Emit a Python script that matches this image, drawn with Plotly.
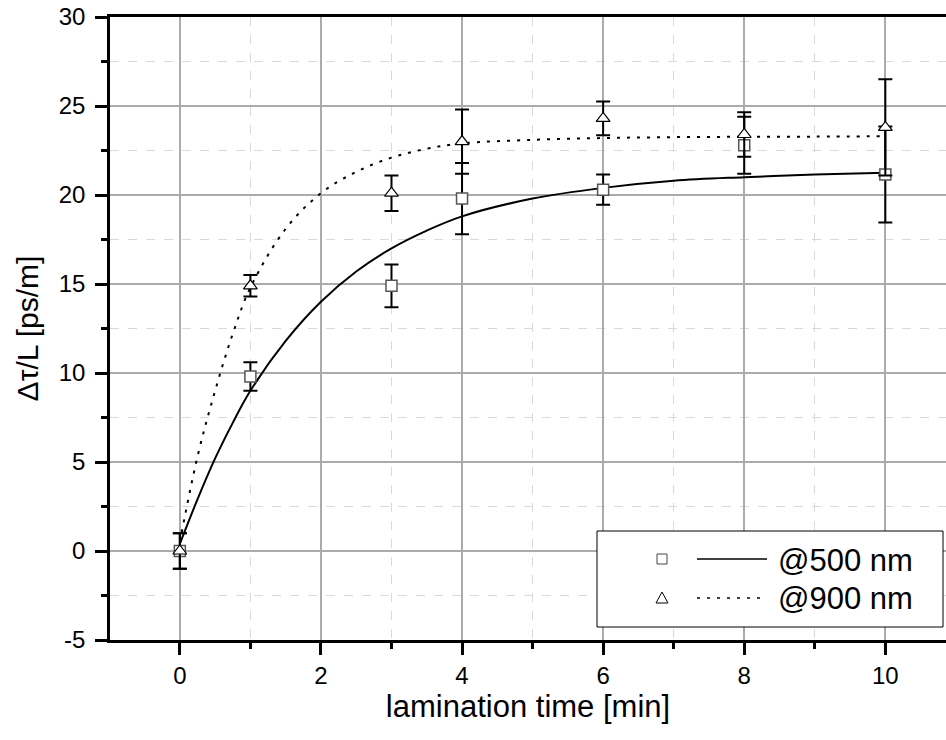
import plotly.graph_objects as go

# ---------------- data ----------------
time_pts = [0, 1, 3, 4, 6, 8, 10]
tau_500 = [0.0, 9.8, 14.9, 19.8, 20.3, 22.8, 21.15]
err_500 = [1.0, 0.8, 1.2, 2.0, 0.85, 1.6, 2.7]
tau_900 = [0.0, 14.9, 20.1, 23.0, 24.3, 23.4, 23.8]
err_900 = [1.0, 0.6, 1.0, 1.8, 0.95, 1.25, 2.7]

fit_x = [0, 0.25, 0.5, 0.75, 1, 1.5, 2, 2.5, 3, 3.5, 4, 5, 6, 7, 8, 9, 10]
fit_500 = [0.4, 2.9, 5.2, 7.2, 9.0, 11.8, 14.0, 15.7, 17.0, 18.0, 18.8, 19.8,
           20.4, 20.8, 21.0, 21.15, 21.25]
fit_900 = [0.5, 5.3, 9.0, 12.2, 14.8, 18.1, 20.1, 21.3, 22.1, 22.6, 22.9, 23.1,
           23.2, 23.25, 23.27, 23.28, 23.3]

x_ticks = [0, 2, 4, 6, 8, 10]
x_ticktext = ["0", "2", "4", "6", "8", "10"]
y_ticks = [-5, 0, 5, 10, 15, 20, 25, 30]
y_ticktext = ["-5", "0", "5", "10", "15", "20", "25", "30"]

legend_names = ["@500 nm", "@900 nm"]

FONT = "Liberation Sans, Arial, sans-serif"

fig = go.Figure()

# fit curves
fig.add_trace(go.Scatter(x=fit_x, y=fit_900, mode="lines", line_shape="spline",
                         line=dict(color="black", width=2, dash="3px,7px"),
                         showlegend=False, hoverinfo="skip"))
fig.add_trace(go.Scatter(x=fit_x, y=fit_500, mode="lines", line_shape="spline",
                         line=dict(color="black", width=2),
                         showlegend=False, hoverinfo="skip"))

# data with error bars
fig.add_trace(go.Scatter(x=time_pts, y=tau_500, mode="markers",
                         marker=dict(symbol="square", size=11, color="white",
                                     line=dict(color="#555555", width=1.5)),
                         error_y=dict(type="data", array=err_500, color="black",
                                      thickness=2, width=7),
                         showlegend=False))
fig.add_trace(go.Scatter(x=time_pts, y=tau_900, mode="markers",
                         marker=dict(symbol="triangle-up", size=12, color="white",
                                     line=dict(color="black", width=1.2)),
                         error_y=dict(type="data", array=err_900, color="black",
                                      thickness=2, width=7),
                         showlegend=False))

# ---------------- manual legend (pixel -> paper helpers) ----------------
L, R, T, B = 110, 946, 17, 640


def px(x):
    return (x - L) / (R - L)


def py(y):
    return (B - y) / (B - T)


shapes = [
    dict(type="rect", xref="paper", yref="paper", x0=px(597), x1=px(943),
         y0=py(627), y1=py(531), line=dict(color="black", width=1),
         fillcolor="white", layer="above"),
    dict(type="rect", xref="paper", yref="paper", x0=px(657), x1=px(667),
         y0=py(564), y1=py(554), line=dict(color="#444444", width=1),
         fillcolor="white", layer="above"),
    dict(type="path", xref="paper", yref="paper",
         path=f"M {px(656)},{py(603)} L {px(668)},{py(603)} L {px(662)},{py(592)} Z",
         line=dict(color="black", width=1), fillcolor="white", layer="above"),
    dict(type="line", xref="paper", yref="paper", x0=px(697), x1=px(767),
         y0=py(559), y1=py(559), line=dict(color="black", width=1.5), layer="above"),
    dict(type="line", xref="paper", yref="paper", x0=px(697), x1=px(767),
         y0=py(598), y1=py(598), line=dict(color="black", width=1.5, dash="3px,7px"),
         layer="above"),
]

annotations = [
    dict(xref="paper", yref="paper", x=px(776), y=py(560), text=legend_names[0],
         showarrow=False, xanchor="left", yanchor="middle",
         font=dict(family=FONT, size=31, color="black")),
    dict(xref="paper", yref="paper", x=px(776), y=py(598), text=legend_names[1],
         showarrow=False, xanchor="left", yanchor="middle",
         font=dict(family=FONT, size=31, color="black")),
]

fig.update_layout(
    width=946, height=740,
    margin=dict(l=L, r=946 - R, t=T, b=740 - B),
    paper_bgcolor="white", plot_bgcolor="white",
    font=dict(family=FONT, color="black"),
    shapes=shapes, annotations=annotations,
    showlegend=False,
)

fig.update_xaxes(
    range=[-0.99, 10.86], tickvals=x_ticks, ticktext=x_ticktext,
    showline=True, linecolor="black", linewidth=2.5, mirror=True,
    ticks="outside", ticklen=12, tickwidth=2.5, tickcolor="black",
    tickfont=dict(family=FONT, size=24, color="black"),
    showgrid=True, gridcolor="#ababab", gridwidth=1.5,
    minor=dict(dtick=1, tick0=1, showgrid=True, gridcolor="#d9d9d9", griddash="dash",
               gridwidth=1, ticks="outside", ticklen=6, tickwidth=2.5, tickcolor="black"),
    zeroline=False,
    title=dict(text="lamination time [min]", font=dict(family=FONT, size=31, color="black"),
               standoff=8),
)
fig.update_yaxes(
    range=[-5, 30], tickvals=y_ticks, ticktext=y_ticktext,
    showline=True, linecolor="black", linewidth=2.5, mirror=False,
    ticks="outside", ticklen=12, tickwidth=2.5, tickcolor="black",
    tickfont=dict(family=FONT, size=24, color="black"),
    ticklabelstandoff=5,
    showgrid=True, gridcolor="#ababab", gridwidth=1.5,
    minor=dict(dtick=2.5, tick0=0, showgrid=True, gridcolor="#d9d9d9", griddash="dash",
               gridwidth=1, ticks="outside", ticklen=6, tickwidth=2.5, tickcolor="black"),
    zeroline=False,
    title=dict(text="Δτ/L [ps/m]", font=dict(family=FONT, size=30, color="black"),
               standoff=12),
)

fig.write_html(
    "out.html",
    config={"displayModeBar": False},
    post_script="document.body.style.margin='0';document.body.style.overflow='hidden';",
)
